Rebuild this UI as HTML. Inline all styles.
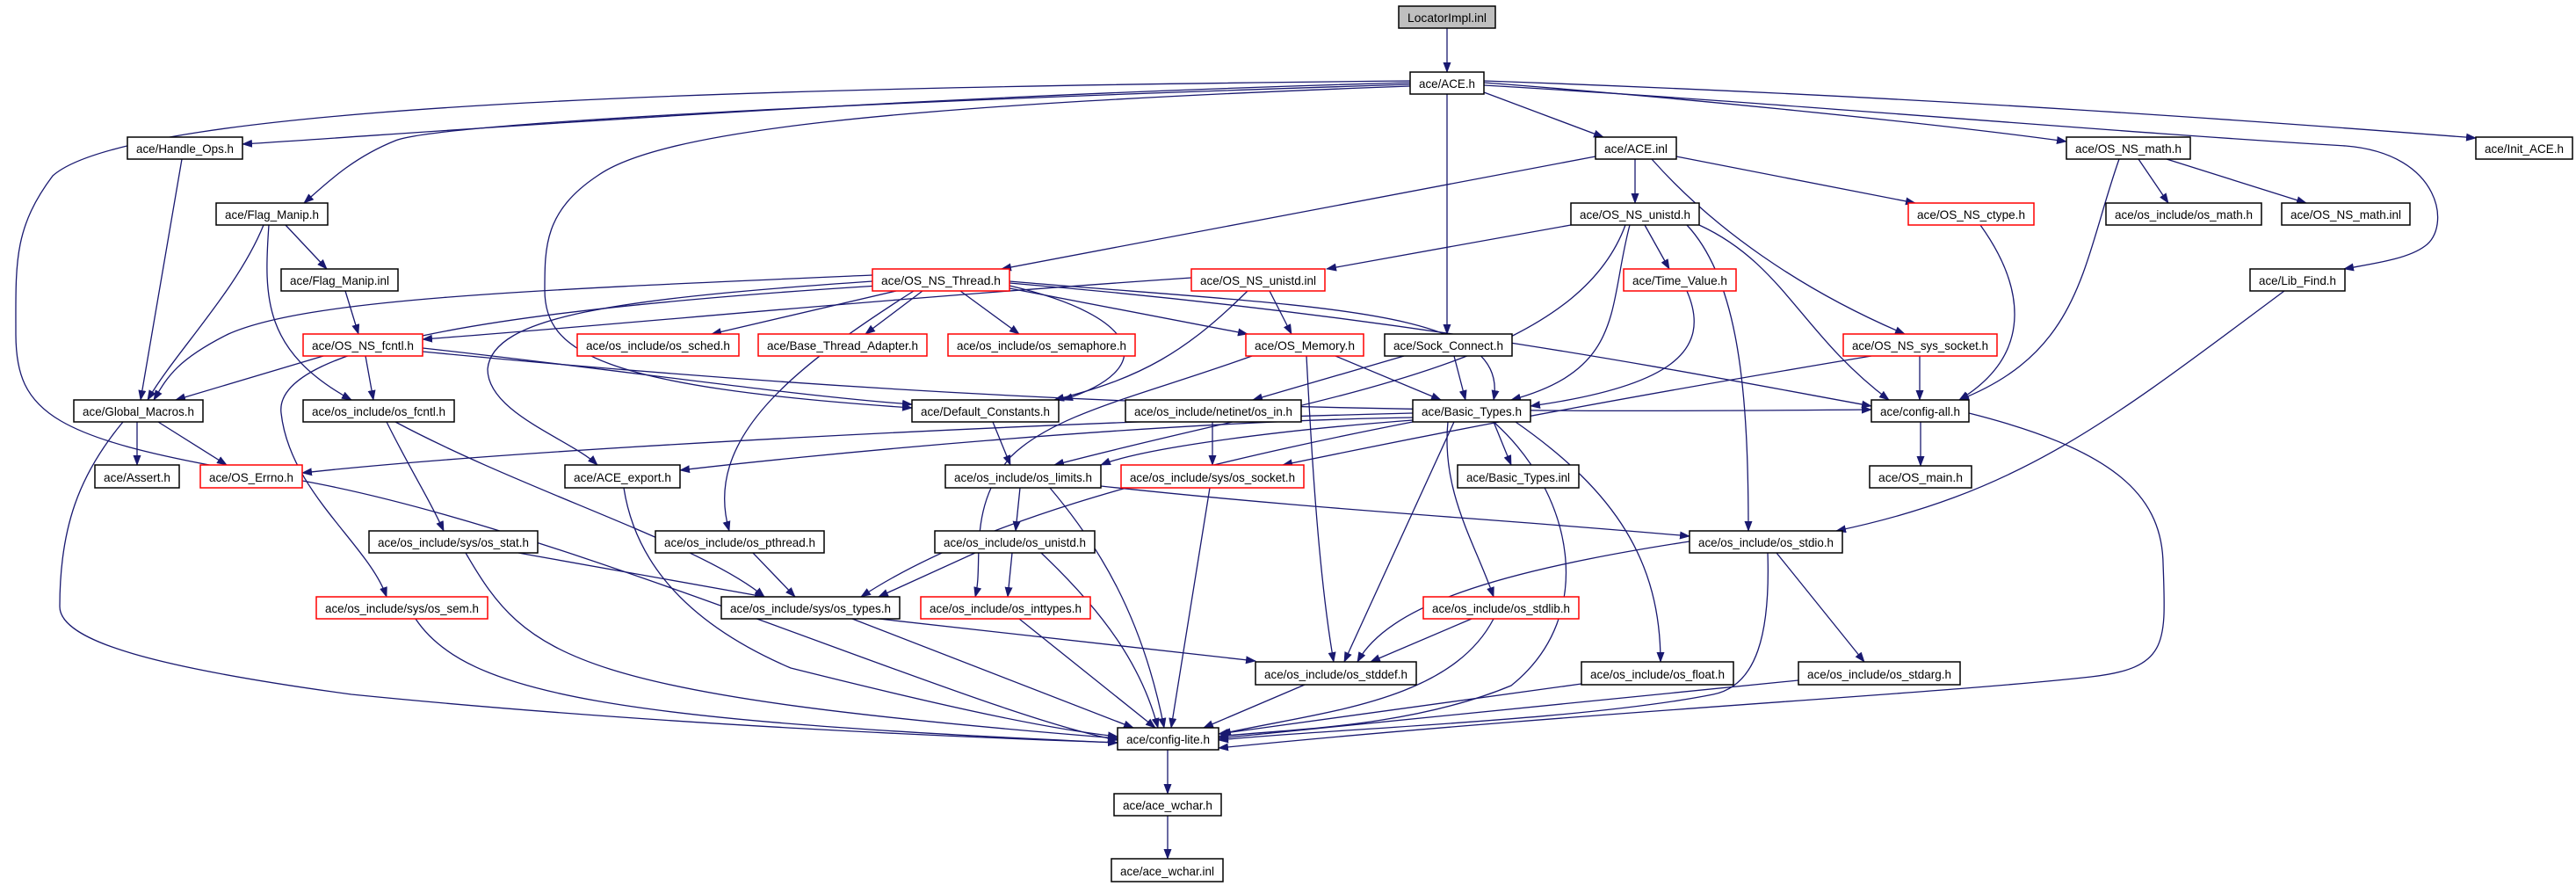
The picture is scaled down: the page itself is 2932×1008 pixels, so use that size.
<!DOCTYPE html>
<html><head><meta charset="utf-8"><style>
html,body{margin:0;padding:0;background:#fff}
svg{display:block}
text{font-family:"Liberation Sans",sans-serif;font-size:14px;fill:#000}
.e{fill:none;stroke:#191970;stroke-width:1.3}
.b{fill:#fff;stroke:#000;stroke-width:1.5}
.r{fill:#fff;stroke:#f00;stroke-width:1.5}
</style></head><body>
<svg width="2932" height="1008" viewBox="0 0 2932 1008" xmlns="http://www.w3.org/2000/svg">
<defs><marker id="a" markerWidth="12" markerHeight="9" refX="11" refY="4.5" orient="auto" markerUnits="userSpaceOnUse"><path d="M0,0 L12,4.5 L0,9 z" fill="#191970"/></marker></defs>
<g class="e" marker-end="url(#a)">
<path d="M1647 32 L1647 82"/>
<path d="M1605 92 C800 100 150 120 60 200 C15 260 18 300 18 380 C18 470 60 500 300 540 C600 580 1100 810 1272 842"/>
<path d="M1605 94 C1000 110 500 150 276 164"/>
<path d="M1605 96 C1000 115 500 140 450 160 C400 180 370 210 346 231"/>
<path d="M1605 98 C1000 120 750 150 680 200 C620 240 620 280 620 330 C620 400 680 440 1038 464"/>
<path d="M1647 107 L1647 380"/>
<path d="M1689 105 L1825 156"/>
<path d="M1689 94 C1900 110 2200 140 2352 161"/>
<path d="M1689 97 C2000 115 2400 150 2670 166 C2780 175 2790 260 2760 280 C2740 295 2700 300 2668 306"/>
<path d="M1689 92 C2200 110 2600 140 2818 157"/>
<path d="M207 181 L160 455"/>
<path d="M300 256 C270 330 200 400 168 455"/>
<path d="M325 256 L372 306"/>
<path d="M306 256 C300 340 300 400 400 455"/>
<path d="M393 331 L408 380"/>
<path d="M368 405 L200 455"/>
<path d="M416 405 L425 455"/>
<path d="M481 396 C700 420 900 450 1038 460"/>
<path d="M481 400 C1200 470 1700 470 2130 466"/>
<path d="M156 480 L156 529"/>
<path d="M180 480 L258 529"/>
<path d="M140 480 C90 540 68 600 68 690 C68 730 180 760 400 790 C800 830 1200 842 1272 845"/>
<path d="M440 480 C470 540 490 570 505 604"/>
<path d="M450 480 C600 560 800 620 870 679"/>
<path d="M1816 178 L1140 306"/>
<path d="M1861 181 L1861 231"/>
<path d="M1908 178 L2180 231"/>
<path d="M1880 181 C1950 260 2050 330 2168 380"/>
<path d="M1788 256 L1510 306"/>
<path d="M1872 256 L1900 306"/>
<path d="M1855 256 C1830 350 1850 420 1720 455"/>
<path d="M1920 256 C1980 320 1990 450 1990 604"/>
<path d="M1934 256 C2030 300 2050 380 2150 455"/>
<path d="M1850 256 C1790 420 1500 450 1200 529"/>
<path d="M993 313 C600 330 350 340 260 380 C200 410 190 430 175 455"/>
<path d="M1020 331 L810 380"/>
<path d="M1050 331 L985 380"/>
<path d="M1093 331 L1160 380"/>
<path d="M1149 328 L1420 380"/>
<path d="M1149 325 C1300 360 1320 420 1210 455"/>
<path d="M993 320 C700 340 560 360 555 420 C555 470 650 500 680 529"/>
<path d="M1040 331 C900 420 800 500 830 604"/>
<path d="M1000 325 C600 350 310 390 320 470 C330 560 420 620 440 679"/>
<path d="M1149 322 C1600 360 1900 420 2130 462"/>
<path d="M1149 320 C1500 350 1720 350 1700 455"/>
<path d="M1356 316 C1000 340 700 370 481 386"/>
<path d="M1445 331 L1470 380"/>
<path d="M1420 331 C1350 400 1300 430 1200 455"/>
<path d="M1920 331 C1950 400 1900 440 1742 462"/>
<path d="M2254 256 C2300 320 2320 400 2230 455"/>
<path d="M2434 181 L2468 231"/>
<path d="M2466 181 L2625 231"/>
<path d="M2412 181 C2370 300 2370 400 2230 455"/>
<path d="M2600 331 C2400 480 2300 560 2090 604"/>
<path d="M2185 405 L2185 455"/>
<path d="M2130 405 C1800 460 1600 500 1460 529"/>
<path d="M1520 405 L1640 455"/>
<path d="M1487 405 C1492 500 1500 650 1518 753"/>
<path d="M1425 405 C1300 450 1200 470 1150 520 C1100 580 1120 640 1110 679"/>
<path d="M1655 405 L1668 455"/>
<path d="M1598 405 L1426 455"/>
<path d="M1130 480 L1150 529"/>
<path d="M1380 480 L1380 529"/>
<path d="M1608 470 C1200 480 600 510 344 538"/>
<path d="M1608 475 C1300 480 900 520 774 535"/>
<path d="M1608 478 C1450 490 1300 510 1253 529"/>
<path d="M1700 480 L1720 529"/>
<path d="M1648 480 C1640 560 1680 620 1700 679"/>
<path d="M1725 480 C1840 560 1890 640 1890 753"/>
<path d="M1655 480 L1530 753"/>
<path d="M1700 480 C1790 560 1820 700 1720 780 C1600 830 1450 830 1387 838"/>
<path d="M1608 480 C1300 540 1100 600 980 679"/>
<path d="M2186 480 L2186 530"/>
<path d="M2241 470 C2400 510 2460 560 2462 640 C2465 730 2470 760 2380 770 C2200 790 1800 810 1387 851"/>
<path d="M1161 555 L1156 604"/>
<path d="M1253 553 C1500 580 1700 590 1923 610"/>
<path d="M1195 555 C1250 620 1300 700 1325 828"/>
<path d="M1377 555 L1333 828"/>
<path d="M590 629 L870 679"/>
<path d="M530 629 C600 750 650 790 1272 840"/>
<path d="M857 629 L905 679"/>
<path d="M1110 629 L1000 679"/>
<path d="M1152 629 L1147 679"/>
<path d="M1185 629 C1260 700 1300 760 1318 828"/>
<path d="M473 704 C530 790 700 820 1272 845"/>
<path d="M1000 704 L1429 752"/>
<path d="M970 704 L1290 828"/>
<path d="M1160 704 L1315 828"/>
<path d="M1675 704 L1560 753"/>
<path d="M1700 704 C1650 800 1500 810 1390 835"/>
<path d="M1923 616 C1700 650 1580 690 1545 753"/>
<path d="M2012 629 C2015 720 2000 780 1950 790 C1800 820 1500 830 1387 842"/>
<path d="M2022 629 L2122 753"/>
<path d="M1485 779 L1370 828"/>
<path d="M1800 778 L1387 835"/>
<path d="M2047 774 L1387 840"/>
<path d="M710 555 C720 620 760 700 900 760 C1100 810 1200 830 1272 838"/>
<path d="M1329 853 L1329 903"/>
<path d="M1329 928 L1329 977"/>
</g>
<g>
<rect x="1592" y="7" width="110" height="25" fill="#bfbfbf" stroke="#000" stroke-width="1.5"/><text x="1647" y="25" text-anchor="middle" textLength="90" lengthAdjust="spacingAndGlyphs">LocatorImpl.inl</text>
<rect class="b" x="1605" y="82" width="84" height="25"/><text x="1647" y="100" text-anchor="middle" textLength="64" lengthAdjust="spacingAndGlyphs">ace/ACE.h</text>
<rect class="b" x="145" y="156" width="131" height="25"/><text x="210.5" y="174" text-anchor="middle" textLength="111" lengthAdjust="spacingAndGlyphs">ace/Handle_Ops.h</text>
<rect class="b" x="1816" y="156" width="92" height="25"/><text x="1862" y="174" text-anchor="middle" textLength="72" lengthAdjust="spacingAndGlyphs">ace/ACE.inl</text>
<rect class="b" x="2352" y="156" width="141" height="25"/><text x="2422.5" y="174" text-anchor="middle" textLength="121" lengthAdjust="spacingAndGlyphs">ace/OS_NS_math.h</text>
<rect class="b" x="2818" y="156" width="110" height="25"/><text x="2873" y="174" text-anchor="middle" textLength="90" lengthAdjust="spacingAndGlyphs">ace/Init_ACE.h</text>
<rect class="b" x="246" y="231" width="127" height="25"/><text x="309.5" y="249" text-anchor="middle" textLength="107" lengthAdjust="spacingAndGlyphs">ace/Flag_Manip.h</text>
<rect class="b" x="1788" y="231" width="146" height="25"/><text x="1861" y="249" text-anchor="middle" textLength="126" lengthAdjust="spacingAndGlyphs">ace/OS_NS_unistd.h</text>
<rect class="r" x="2172" y="231" width="143" height="25"/><text x="2243.5" y="249" text-anchor="middle" textLength="123" lengthAdjust="spacingAndGlyphs">ace/OS_NS_ctype.h</text>
<rect class="b" x="2397" y="231" width="177" height="25"/><text x="2485.5" y="249" text-anchor="middle" textLength="157" lengthAdjust="spacingAndGlyphs">ace/os_include/os_math.h</text>
<rect class="b" x="2597" y="231" width="146" height="25"/><text x="2670" y="249" text-anchor="middle" textLength="126" lengthAdjust="spacingAndGlyphs">ace/OS_NS_math.inl</text>
<rect class="b" x="320" y="306" width="133" height="25"/><text x="386.5" y="324" text-anchor="middle" textLength="113" lengthAdjust="spacingAndGlyphs">ace/Flag_Manip.inl</text>
<rect class="r" x="993" y="306" width="156" height="25"/><text x="1071" y="324" text-anchor="middle" textLength="136" lengthAdjust="spacingAndGlyphs">ace/OS_NS_Thread.h</text>
<rect class="r" x="1356" y="306" width="152" height="25"/><text x="1432" y="324" text-anchor="middle" textLength="132" lengthAdjust="spacingAndGlyphs">ace/OS_NS_unistd.inl</text>
<rect class="r" x="1848" y="306" width="128" height="25"/><text x="1912" y="324" text-anchor="middle" textLength="108" lengthAdjust="spacingAndGlyphs">ace/Time_Value.h</text>
<rect class="b" x="2561" y="306" width="108" height="25"/><text x="2615" y="324" text-anchor="middle" textLength="88" lengthAdjust="spacingAndGlyphs">ace/Lib_Find.h</text>
<rect class="r" x="345" y="380" width="136" height="25"/><text x="413" y="398" text-anchor="middle" textLength="116" lengthAdjust="spacingAndGlyphs">ace/OS_NS_fcntl.h</text>
<rect class="r" x="657" y="380" width="184" height="25"/><text x="749" y="398" text-anchor="middle" textLength="164" lengthAdjust="spacingAndGlyphs">ace/os_include/os_sched.h</text>
<rect class="r" x="863" y="380" width="192" height="25"/><text x="959" y="398" text-anchor="middle" textLength="172" lengthAdjust="spacingAndGlyphs">ace/Base_Thread_Adapter.h</text>
<rect class="r" x="1079" y="380" width="213" height="25"/><text x="1185.5" y="398" text-anchor="middle" textLength="193" lengthAdjust="spacingAndGlyphs">ace/os_include/os_semaphore.h</text>
<rect class="r" x="1418" y="380" width="134" height="25"/><text x="1485" y="398" text-anchor="middle" textLength="114" lengthAdjust="spacingAndGlyphs">ace/OS_Memory.h</text>
<rect class="b" x="1576" y="380" width="145" height="25"/><text x="1648.5" y="398" text-anchor="middle" textLength="125" lengthAdjust="spacingAndGlyphs">ace/Sock_Connect.h</text>
<rect class="r" x="2098" y="380" width="175" height="25"/><text x="2185.5" y="398" text-anchor="middle" textLength="155" lengthAdjust="spacingAndGlyphs">ace/OS_NS_sys_socket.h</text>
<rect class="b" x="84" y="455" width="147" height="25"/><text x="157.5" y="473" text-anchor="middle" textLength="127" lengthAdjust="spacingAndGlyphs">ace/Global_Macros.h</text>
<rect class="b" x="345" y="455" width="172" height="25"/><text x="431" y="473" text-anchor="middle" textLength="152" lengthAdjust="spacingAndGlyphs">ace/os_include/os_fcntl.h</text>
<rect class="b" x="1038" y="455" width="167" height="25"/><text x="1121.5" y="473" text-anchor="middle" textLength="147" lengthAdjust="spacingAndGlyphs">ace/Default_Constants.h</text>
<rect class="b" x="1281" y="455" width="200" height="25"/><text x="1381" y="473" text-anchor="middle" textLength="180" lengthAdjust="spacingAndGlyphs">ace/os_include/netinet/os_in.h</text>
<rect class="b" x="1608" y="455" width="134" height="25"/><text x="1675" y="473" text-anchor="middle" textLength="114" lengthAdjust="spacingAndGlyphs">ace/Basic_Types.h</text>
<rect class="b" x="2130" y="455" width="111" height="25"/><text x="2185.5" y="473" text-anchor="middle" textLength="91" lengthAdjust="spacingAndGlyphs">ace/config-all.h</text>
<rect class="b" x="108" y="529" width="96" height="26"/><text x="156" y="548" text-anchor="middle" textLength="76" lengthAdjust="spacingAndGlyphs">ace/Assert.h</text>
<rect class="r" x="228" y="529" width="116" height="26"/><text x="286" y="548" text-anchor="middle" textLength="96" lengthAdjust="spacingAndGlyphs">ace/OS_Errno.h</text>
<rect class="b" x="643" y="529" width="131" height="26"/><text x="708.5" y="548" text-anchor="middle" textLength="111" lengthAdjust="spacingAndGlyphs">ace/ACE_export.h</text>
<rect class="b" x="1076" y="529" width="177" height="26"/><text x="1164.5" y="548" text-anchor="middle" textLength="157" lengthAdjust="spacingAndGlyphs">ace/os_include/os_limits.h</text>
<rect class="r" x="1276" y="529" width="208" height="26"/><text x="1380" y="548" text-anchor="middle" textLength="188" lengthAdjust="spacingAndGlyphs">ace/os_include/sys/os_socket.h</text>
<rect class="b" x="1659" y="529" width="138" height="26"/><text x="1728" y="548" text-anchor="middle" textLength="118" lengthAdjust="spacingAndGlyphs">ace/Basic_Types.inl</text>
<rect class="b" x="2128" y="530" width="116" height="25"/><text x="2186" y="548" text-anchor="middle" textLength="96" lengthAdjust="spacingAndGlyphs">ace/OS_main.h</text>
<rect class="b" x="420" y="604" width="192" height="25"/><text x="516" y="622" text-anchor="middle" textLength="172" lengthAdjust="spacingAndGlyphs">ace/os_include/sys/os_stat.h</text>
<rect class="b" x="746" y="604" width="192" height="25"/><text x="842" y="622" text-anchor="middle" textLength="172" lengthAdjust="spacingAndGlyphs">ace/os_include/os_pthread.h</text>
<rect class="b" x="1064" y="604" width="182" height="25"/><text x="1155" y="622" text-anchor="middle" textLength="162" lengthAdjust="spacingAndGlyphs">ace/os_include/os_unistd.h</text>
<rect class="b" x="1923" y="604" width="174" height="25"/><text x="2010" y="622" text-anchor="middle" textLength="154" lengthAdjust="spacingAndGlyphs">ace/os_include/os_stdio.h</text>
<rect class="r" x="360" y="679" width="195" height="25"/><text x="457.5" y="697" text-anchor="middle" textLength="175" lengthAdjust="spacingAndGlyphs">ace/os_include/sys/os_sem.h</text>
<rect class="b" x="821" y="679" width="203" height="25"/><text x="922.5" y="697" text-anchor="middle" textLength="183" lengthAdjust="spacingAndGlyphs">ace/os_include/sys/os_types.h</text>
<rect class="r" x="1048" y="679" width="193" height="25"/><text x="1144.5" y="697" text-anchor="middle" textLength="173" lengthAdjust="spacingAndGlyphs">ace/os_include/os_inttypes.h</text>
<rect class="r" x="1620" y="679" width="177" height="25"/><text x="1708.5" y="697" text-anchor="middle" textLength="157" lengthAdjust="spacingAndGlyphs">ace/os_include/os_stdlib.h</text>
<rect class="b" x="1429" y="753" width="183" height="26"/><text x="1520.5" y="772" text-anchor="middle" textLength="163" lengthAdjust="spacingAndGlyphs">ace/os_include/os_stddef.h</text>
<rect class="b" x="1800" y="753" width="173" height="26"/><text x="1886.5" y="772" text-anchor="middle" textLength="153" lengthAdjust="spacingAndGlyphs">ace/os_include/os_float.h</text>
<rect class="b" x="2047" y="753" width="184" height="26"/><text x="2139" y="772" text-anchor="middle" textLength="164" lengthAdjust="spacingAndGlyphs">ace/os_include/os_stdarg.h</text>
<rect class="b" x="1272" y="828" width="115" height="25"/><text x="1329.5" y="846" text-anchor="middle" textLength="95" lengthAdjust="spacingAndGlyphs">ace/config-lite.h</text>
<rect class="b" x="1268" y="903" width="122" height="25"/><text x="1329" y="921" text-anchor="middle" textLength="102" lengthAdjust="spacingAndGlyphs">ace/ace_wchar.h</text>
<rect class="b" x="1265" y="977" width="127" height="26"/><text x="1328.5" y="996" text-anchor="middle" textLength="107" lengthAdjust="spacingAndGlyphs">ace/ace_wchar.inl</text>
</g>
</svg>
</body></html>
